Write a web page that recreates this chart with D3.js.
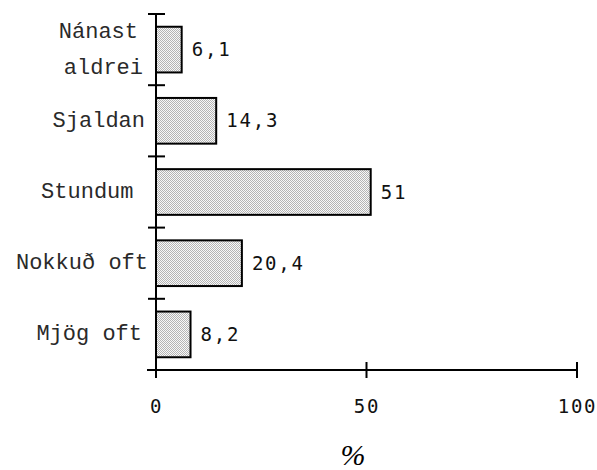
<!DOCTYPE html>
<html>
<head>
<meta charset="utf-8">
<script src="https://cdn.jsdelivr.net/npm/d3@7"></script>
<style>
  html, body { margin: 0; padding: 0; background: #fff; }
  svg { display: block; }
</style>
</head>
<body>
<script>
// ---- data ----
const categories = ["Nánast aldrei", "Sjaldan", "Stundum", "Nokkuð oft", "Mjög oft"];
const labelLines = [["Nánast", "aldrei"], ["Sjaldan"], ["Stundum"], ["Nokkuð oft"], ["Mjög oft"]];
const values = [6.1, 14.3, 51, 20.4, 8.2];
const valueLabels = ["6,1", "14,3", "51", "20,4", "8,2"];
const xTicks = [0, 50, 100];
const xTickLabels = ["0", "50", "100"];
const axisTitle = "%";

// ---- layout ----
const W = 597, H = 470;
const svg = d3.select("body").append("svg").attr("width", W).attr("height", H);

const x = d3.scaleLinear().domain([0, 100]).range([156, 577]);
const y = d3.scaleBand().domain(categories).range([14, 370]).paddingInner(0.33).paddingOuter(0.165);
const step = y.step();

// stipple pattern
const defs = svg.append("defs");
const pat = defs.append("pattern").attr("id", "stip").attr("patternUnits", "userSpaceOnUse")
  .attr("width", 2).attr("height", 2);
pat.append("rect").attr("width", 2).attr("height", 2).attr("fill", "#f8f8f8");
pat.append("rect").attr("x", 0).attr("y", 0).attr("width", 1).attr("height", 1).attr("fill", "#b4b4b4");
pat.append("rect").attr("x", 1).attr("y", 1).attr("width", 1).attr("height", 1).attr("fill", "#b4b4b4");

// bars
svg.append("g").selectAll("rect").data(categories).join("rect")
  .attr("x", x(0))
  .attr("y", d => y(d) + 1)
  .attr("width", (d, i) => x(values[i]) - x(0))
  .attr("height", y.bandwidth() - 2)
  .attr("fill", "url(#stip)")
  .attr("stroke", "#000")
  .attr("stroke-width", 2);

// y axis line
const yTop = y.range()[0], yBot = y.range()[1];
svg.append("line").attr("x1", x(0)).attr("x2", x(0)).attr("y1", yTop - 1).attr("y2", yBot + 8)
  .attr("stroke", "#000").attr("stroke-width", 2);
// y ticks at band boundaries
const bounds = d3.range(categories.length + 1).map(k => yTop + k * step);
svg.append("g").selectAll("line").data(bounds).join("line")
  .attr("x1", x(0) - 8).attr("x2", x(0) + 9)
  .attr("y1", d => d).attr("y2", d => d)
  .attr("stroke", "#000").attr("stroke-width", 2);

// x axis
svg.append("line").attr("x1", x(0) - 9).attr("x2", x(100)).attr("y1", yBot).attr("y2", yBot)
  .attr("stroke", "#000").attr("stroke-width", 2);
svg.append("g").selectAll("line").data(xTicks).join("line")
  .attr("x1", d => x(d)).attr("x2", d => x(d))
  .attr("y1", yBot - 8).attr("y2", yBot + 8)
  .attr("stroke", "#000").attr("stroke-width", 2);

// x tick labels
svg.append("g").selectAll("text").data(xTicks).join("text")
  .attr("x", d => x(d) + 0.5)
  .attr("y", 413)
  .attr("text-anchor", "middle")
  .style("font-family", "'DejaVu Sans Mono', monospace")
  .style("font-size", "19px")
  .style("letter-spacing", "1.8px")
  .attr("fill", "#111")
  .text((d, i) => xTickLabels[i]);

// axis title
svg.append("text")
  .attr("x", 353).attr("y", 465)
  .attr("text-anchor", "middle")
  .style("font-family", "'Liberation Serif', 'Times New Roman', serif")
  .style("font-style", "italic")
  .style("font-size", "30px")
  .attr("fill", "#000")
  .text(axisTitle);

// category labels (right-aligned near the axis, per-line horizontal nudges)
const labelDx = [[-18, -13], [-11], [-22.5], [-8], [-14]];
const catG = svg.append("g");
categories.forEach((c, i) => {
  const cy = y(c) + y.bandwidth() / 2;
  const lines = labelLines[i];
  const offs = lines.length === 1 ? [6] : [-12, 24];
  lines.forEach((ln, j) => {
    catG.append("text")
      .attr("x", x(0) + labelDx[i][j])
      .attr("y", cy + offs[j])
      .attr("text-anchor", "end")
      .style("font-family", "'Liberation Mono', monospace")
      .style("font-size", "22px")
      .attr("fill", "#2a2a2a")
      .text(ln);
  });
});

// value labels
svg.append("g").selectAll("text").data(categories).join("text")
  .attr("x", (d, i) => x(values[i]) + 10)
  .attr("y", d => y(d) + y.bandwidth() / 2 + 6.5)
  .style("font-family", "'DejaVu Sans Mono', monospace")
  .style("font-size", "19px")
  .style("letter-spacing", "1.8px")
  .attr("fill", "#111")
  .text((d, i) => valueLabels[i]);
</script>
</body>
</html>
